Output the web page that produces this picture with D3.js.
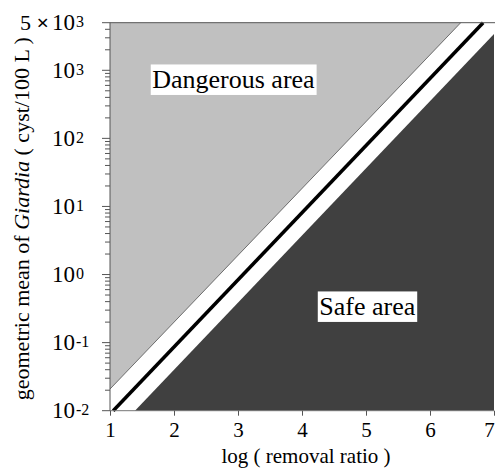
<!DOCTYPE html>
<html>
<head>
<meta charset="utf-8">
<script src="https://cdn.jsdelivr.net/npm/d3@7"></script>
<style>
  html, body { margin: 0; padding: 0; background: #fff; }
  svg { display: block; }
  text { font-family: "Liberation Serif", "Times New Roman", serif; fill: #000; }
</style>
</head>
<body>
<svg id="chart" width="495" height="471"></svg>
<script>
// ---- data ----
const xTickValues = [1, 2, 3, 4, 5, 6, 7];
const yTickValues = [1e-2, 1e-1, 1e0, 1e1, 1e2, 1e3];
const yTickExponents = ["-2", "-1", "0", "1", "2", "3"];
const yTopValue = 5000;
const yTopMantissa = "5";
const yTopExponent = "3";
// boundary lines: [log removal ratio, geometric mean cyst/100L]
const upperBoundary = [[1.0, 0.0208], [6.48, 5000]];
const thresholdLine = [[1.05, 0.01], [6.83, 5000]];
const lowerBoundary = [[1.39, 0.01], [7.0, 3400]];
const areaLabels = ["Dangerous area", "Safe area"];
const areaLabelPos = [[1.66, 550], [4.27, 0.255]];

const xDomain = [1, 7];
const yDomain = [0.01, 5000];

// ---- layout ----
const svg = d3.select("#chart");
const x = d3.scaleLinear().domain(xDomain).range([110, 494]);
const y = d3.scaleLog().domain(yDomain).range([410.7, 22.7]);

const line = d3.line().x(d => x(d[0])).y(d => y(d[1]));

// dangerous (light gray) region
const dangerPoly = [[xDomain[0], yDomain[1]], upperBoundary[0], upperBoundary[1]];
svg.append("path").attr("d", line(dangerPoly) + "Z").attr("fill", "#c0c0c0");

// safe (dark) region
const safePoly = [lowerBoundary[0], [xDomain[1], yDomain[0]], lowerBoundary[1]];
svg.append("path").attr("d", line(safePoly) + "Z").attr("fill", "#404040");

// thin edge of dangerous region
svg.append("path").attr("d", line(upperBoundary))
  .attr("stroke", "#505050").attr("stroke-width", 0.8).attr("fill", "none");

// threshold line
svg.append("path").attr("d", line(thresholdLine))
  .attr("stroke", "#000").attr("stroke-width", 3.5).attr("fill", "none");

// ---- axes ----
const axisColor = "#555";
svg.append("line").attr("x1", x(1)).attr("x2", x(1)).attr("y1", y(yDomain[0])).attr("y2", y(yDomain[1]))
  .attr("stroke", axisColor).attr("stroke-width", 1);
svg.append("line").attr("x1", x(1)).attr("x2", x(7)).attr("y1", y(yDomain[0])).attr("y2", y(yDomain[0]))
  .attr("stroke", "#777").attr("stroke-width", 1);
svg.append("line").attr("x1", x(1)).attr("x2", 495).attr("y1", y(yDomain[1])).attr("y2", y(yDomain[1]))
  .attr("stroke", axisColor).attr("stroke-width", 1);

// x ticks
const xAxis = d3.axisBottom(x).tickValues(xTickValues).tickSize(5).tickSizeOuter(0).tickFormat(d3.format("d"));
const gx = svg.append("g").attr("transform", `translate(0,${y(yDomain[0])})`).call(xAxis);
gx.select(".domain").remove();
gx.selectAll(".tick line").attr("stroke", axisColor);
gx.selectAll(".tick text").attr("y", 11).attr("dy", "0.71em")
  .style("font-family", "Liberation Serif, serif").style("font-size", "21px").attr("fill", "#000")
  .attr("x", d => d === xDomain[1] ? -5 : 0);

// y minor ticks
const minor = [];
for (let e = -2; e <= 3; e++) {
  for (let m = 2; m <= 9; m++) {
    const v = m * Math.pow(10, e);
    if (v < yTopValue) minor.push(v);
  }
}
svg.append("g").selectAll("line").data(minor).join("line")
  .attr("x1", x(1) - 5).attr("x2", x(1)).attr("y1", d => y(d)).attr("y2", d => y(d))
  .attr("stroke", axisColor).attr("stroke-width", 1);
svg.append("g").selectAll("line").data(yTickValues.concat([yTopValue])).join("line")
  .attr("x1", x(1) - 8).attr("x2", x(1)).attr("y1", d => y(d)).attr("y2", d => y(d))
  .attr("stroke", axisColor).attr("stroke-width", 1);

// y tick labels
const labelX = 52;
const gyl = svg.append("g");
function powLabel(v, exp) {
  const t = gyl.append("text").attr("x", labelX).attr("y", y(v) + 7.5)
    .style("font-size", "23px");
  t.append("tspan").text("10");
  t.append("tspan").attr("dx", 1).attr("dy", -3).style("font-size", "16px").text(exp);
}
yTickValues.forEach((v, i) => powLabel(v, yTickExponents[i]));
powLabel(yTopValue, yTopExponent);
{
  const t = gyl.append("text").attr("x", labelX - 3).attr("y", y(yTopValue) + 7.5)
    .attr("text-anchor", "end").style("font-size", "22px");
  t.append("tspan").text(yTopMantissa + " ");
  t.append("tspan").style("font-weight", "bold").text("\u00d7");
}

// axis titles
svg.append("text").attr("x", (x(1) + x(7)) / 2 + 4).attr("y", 463)
  .attr("text-anchor", "middle").style("font-size", "21px").text("log ( removal ratio )");

const yt = svg.append("text")
  .attr("transform", `translate(29,${(y(yDomain[0]) + y(yDomain[1])) / 2 + 2}) rotate(-90)`)
  .attr("text-anchor", "middle").style("font-size", "22px");
yt.append("tspan").text("geometric mean of ");
yt.append("tspan").style("font-style", "italic").text("Giardia");
yt.append("tspan").text(" ( cyst/100 L )");

// area labels with white boxes
areaLabels.forEach((lab, i) => {
  const g = svg.append("g");
  const t = g.append("text").attr("x", x(areaLabelPos[i][0])).attr("y", y(areaLabelPos[i][1]))
    .style("font-size", "26px").text(lab);
  const bb = t.node().getBBox();
  g.insert("rect", "text").attr("x", bb.x - 1.5).attr("y", bb.y - 0.5)
    .attr("width", bb.width + 3).attr("height", bb.height + 1.5).attr("fill", "#fff");
});
</script>
</body>
</html>
